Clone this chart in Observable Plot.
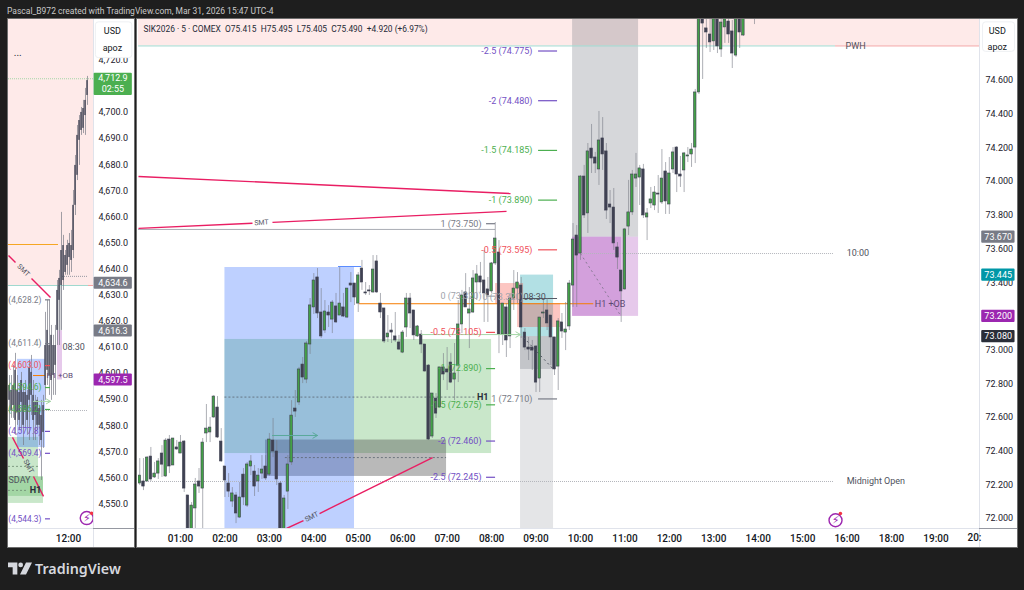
<!DOCTYPE html>
<html><head><meta charset="utf-8">
<style>
html,body{margin:0;padding:0;background:#1e1e1e;width:1024px;height:590px;overflow:hidden;font-family:Roboto,sans-serif}
.panel{position:absolute;top:19px;height:528px;overflow:hidden;background:#fff;outline:1px solid #6d6d6d}
#head{position:absolute;left:7px;top:4px;font-size:8.5px;line-height:14px;color:#c8c8c8;white-space:nowrap}
#logo{position:absolute;left:8px;top:562px}
#brand{position:absolute;left:35px;top:557px;font-size:14.3px;line-height:24px;font-weight:600;font-family:"Noto Sans",sans-serif;color:#d6d8de}
</style>
<script src="https://cdn.jsdelivr.net/npm/d3@7"></script>
<script src="https://cdn.jsdelivr.net/npm/@observablehq/plot@0.6"></script>
</head><body>
<div id="head">Pascal_B972 created with TradingView.com, Mar 31, 2026 15:47 UTC-4</div>
<div class="panel" id="left" style="left:8px;width:126px"></div>
<div class="panel" id="main" style="left:137px;width:880px"></div>
<svg id="logo" width="24" height="13" viewBox="0 0 36 18"><path fill="#d6d8de" d="M14 0H0v7h7v11h7zM27 18h-9L27 0h9z"/><circle fill="#d6d8de" cx="19" cy="3.6" r="3.6"/></svg>
<div id="brand">TradingView</div>
<script>
// ---------- SIK2026 5-minute bars, one array per hour: [open, high, low, close]
const firstBar = 1;
const h00 = [[72.208,72.356,72.196,72.255],[72.220,72.356,72.166,72.190],[72.220,72.368,72.220,72.362],[72.368,72.422,72.220,72.232],[72.244,72.333,72.238,72.267],[72.267,72.356,72.232,72.339],[72.386,72.433,72.244,72.320],[72.250,72.475,72.244,72.463],[72.469,72.493,72.267,72.309],[72.315,72.475,72.315,72.475],[72.422,72.463,72.404,72.410]];
const h01 = [[72.386,72.493,72.386,72.451],[72.457,72.463,72.155,72.178],[72.137,72.137,71.900,71.915],[71.925,72.095,71.880,72.077],[72.060,72.238,71.930,72.202],[72.220,72.297,72.149,72.190],[72.178,72.475,71.930,72.451],[72.505,72.677,72.451,72.534],[72.511,72.600,72.451,72.540],[72.600,72.730,72.594,72.724],[72.659,72.724,72.475,72.481],[72.457,72.534,72.333,72.339]];
const h02 = [[72.309,72.309,72.125,72.226],[72.208,72.267,72.125,72.160],[72.101,72.184,72.066,72.149],[72.137,72.155,71.970,72.030],[72.006,72.214,72.000,72.125],[72.261,72.297,72.077,72.125],[72.077,72.333,72.066,72.321],[72.309,72.374,72.255,72.339],[72.279,72.315,72.131,72.190],[72.220,72.297,72.155,72.255],[72.267,72.374,72.232,72.291],[72.309,72.374,72.226,72.238]];
const h03 = [[72.261,72.505,72.250,72.469],[72.463,72.594,72.362,72.398],[72.398,72.463,72.196,72.232],[72.208,72.220,71.900,71.915],[71.925,72.137,71.900,72.119],[72.160,72.374,72.054,72.321],[72.333,72.700,72.315,72.611],[72.653,72.760,72.600,72.635],[72.689,72.897,72.671,72.885],[72.914,72.956,72.801,72.837],[72.825,73.051,72.801,73.039],[73.033,73.306,72.974,73.265]];
const h04 = [[73.253,73.454,73.211,73.413],[73.431,73.484,73.187,73.217],[73.223,73.365,73.069,73.081],[73.116,73.294,73.098,73.229],[73.223,73.264,73.134,73.205],[73.181,73.294,73.098,73.282],[73.259,73.336,73.158,73.164],[73.205,73.490,73.205,73.276],[73.253,73.336,73.193,73.199],[73.193,73.365,73.187,73.365],[73.395,73.460,73.282,73.383],[73.395,73.395,73.264,73.312]];
const h05 = [[73.276,73.460,73.223,73.443],[73.484,73.532,73.354,73.401],[73.342,73.401,73.324,73.336],[73.354,73.383,73.324,73.348],[73.342,73.561,73.336,73.478],[73.526,73.561,73.336,73.342],[73.276,73.336,73.187,73.223],[73.247,73.247,73.039,73.051],[73.075,73.205,73.045,73.098],[73.116,73.158,73.039,73.104],[73.081,73.223,73.045,73.057],[73.045,73.087,72.997,73.003]];
const h06 = [[72.985,73.116,72.979,73.104],[73.134,73.336,73.075,73.306],[73.306,73.336,73.128,73.217],[73.235,73.235,73.057,73.087],[73.081,73.146,73.075,73.140],[73.092,73.116,72.979,73.033],[73.033,73.033,72.867,72.873],[72.908,72.914,72.463,72.469],[72.487,72.742,72.475,72.742],[72.712,72.742,72.594,72.623],[72.659,72.897,72.659,72.897],[72.897,72.979,72.819,72.855]];
const h07 = [[72.885,73.015,72.760,72.867],[72.926,72.979,72.801,72.807],[72.825,73.039,72.700,72.861],[72.908,73.294,72.807,73.152],[73.152,73.354,73.098,73.324],[73.342,73.454,73.253,73.253],[73.217,73.371,73.009,73.241],[73.223,73.472,73.217,73.425],[73.401,73.502,73.294,73.449],[73.437,73.520,73.336,73.401],[73.413,73.591,73.164,73.336],[73.360,73.431,73.164,73.324]];
const h08 = [[73.348,73.520,73.336,73.514],[73.514,73.757,73.502,73.662],[73.579,73.650,72.979,73.092],[73.092,73.276,73.027,73.276],[73.253,73.276,72.956,73.057],[73.081,73.336,73.009,73.306],[73.306,73.472,73.235,73.365],[73.365,73.460,73.276,73.401],[73.383,73.431,73.069,73.134],[73.104,73.128,72.997,73.015],[73.015,73.075,72.938,73.003],[73.015,73.057,72.879,72.997]];
const h09 = [[73.021,73.027,72.748,72.807],[72.831,73.193,72.748,73.193],[73.217,73.306,73.187,73.223],[73.235,73.306,73.116,73.158],[73.205,73.205,72.908,73.075],[73.075,73.075,72.849,72.885],[72.902,73.187,72.760,73.170],[73.164,73.217,73.069,73.110],[73.104,73.282,72.997,73.122],[73.140,73.413,73.116,73.395],[73.383,73.751,73.253,73.656],[73.680,73.739,73.253,73.561]];
const h10 = [[73.573,74.036,73.532,74.030],[74.030,74.096,73.781,73.799],[73.811,74.226,73.692,74.179],[74.196,74.339,74.048,74.137],[74.143,74.173,74.048,74.107],[74.072,74.416,73.977,74.244],[74.256,74.380,74.066,74.161],[74.179,74.226,73.775,73.828],[73.864,73.947,73.751,73.846],[73.846,73.959,73.591,73.633],[73.609,73.638,73.478,73.549],[73.472,73.472,73.164,73.348]];
const h11 = [[73.360,73.722,73.354,73.716],[73.733,74.007,73.680,73.817],[73.817,74.066,73.799,74.042],[74.018,74.167,73.965,74.042],[74.024,74.096,73.858,74.078],[74.072,74.102,73.781,73.799],[73.787,73.840,73.650,73.811],[73.870,73.965,73.840,73.894],[73.858,73.971,73.828,73.935],[73.929,74.036,73.811,73.923],[73.876,74.190,73.864,74.018],[74.060,74.113,73.805,73.882]];
const h12 = [[73.864,74.143,73.805,74.048],[74.072,74.202,74.048,74.173],[74.202,74.208,73.935,74.042],[74.042,74.149,73.965,74.030],[74.066,74.173,73.935,74.167],[74.149,74.202,74.113,74.155],[74.161,74.226,74.084,74.190],[74.202,74.547,74.107,74.529],[74.529,75.060,74.517,75.040],[75.050,75.060,74.606,74.938],[74.909,75.016,74.790,74.885],[74.873,75.016,74.766,74.826]];
const h13 = [[74.832,75.050,74.778,75.045],[75.045,75.050,74.760,74.802],[74.784,74.970,74.737,74.944],[74.915,75.050,74.820,75.040],[74.950,75.016,74.820,74.873],[74.891,74.956,74.671,74.760],[74.748,75.050,74.737,75.040],[75.040,75.050,74.790,74.885],[74.867,75.050,74.861,75.040],[75.100,75.200,75.050,75.150],[75.150,75.250,75.100,75.200],[75.100,75.200,74.932,75.150]];

// ---------- left panel bars (gold, compressed): [high, body top, body bottom, low]
const gcBarStart = 6.825, gcBarStep = 0.1754;
const gcBars = [[4599.2,4595.4,4589.7,4580.1],[4599.2,4593.5,4585.8,4582.8],[4603.1,4595.4,4587.7,4582.8],[4607.7,4601.2,4582,4576.3],[4599.2,4593.5,4585,4580.1],[4595.4,4592.7,4582,4578.2],[4600.4,4597.3,4588.9,4578.2],[4595.4,4592.7,4580.1,4572.4],[4597.3,4592.7,4585.8,4578.9],[4593.5,4591.6,4582,4576.3],[4605,4601.9,4589.7,4574.3],[4606.9,4600.4,4591.6,4583.9],[4597.3,4591.6,4582,4574.3],[4591.6,4588.9,4583.9,4574.3],[4590.8,4589.7,4580.1,4578.2],[4587.7,4586.6,4580.1,4572.4],[4589.7,4583.9,4574.3,4559],[4591.6,4587.7,4577.4,4571.3],[4623.4,4610.7,4595.4,4589.7],[4628,4616.5,4601.2,4595.4],[4628,4610.7,4599.2,4591.6],[4618.4,4614.6,4597.3,4589.7],[4614.6,4610.7,4599.2,4591.6],[4618.4,4610.7,4603.1,4591.6],[4635.6,4631.8,4616.5,4610.7],[4639.5,4636.4,4628,4610.7],[4661.7,4647.1,4633.7,4616.5],[4652.9,4649,4635.6,4631.8],[4647.1,4645.2,4638.7,4637.6],[4651,4649,4641.4,4637.6],[4653.6,4649.8,4644.4,4637.6],[4654.8,4649,4643.3,4638.7],[4670.1,4664.4,4647.1,4644],[4683.5,4679.7,4664.4,4660.5],[4695,4691.2,4675.9,4673.9],[4698.8,4696.9,4689.3,4679.7],[4701.9,4700,4693.1,4691.2],[4704.6,4701.5,4693.9,4691.9],[4709.2,4704.6,4698.8,4691.2],[4713.8,4712.2,4706.5,4702.7]];

// ---------- axes
const hourTicks = [1,2,3,4,5,6,7,8,9,10,11,12,13,14,15,16,17,18];
const hourLabels = ["01:00","02:00","03:00","04:00","05:00","06:00","07:00","08:00","09:00","10:00","11:00","12:00","13:00","14:00","15:00","16:00","18:00","19:00"];
const priceTicks = [72,72.2,72.4,72.6,72.8,73,73.2,73.4,73.6,73.8,74,74.2,74.4,74.6];
const gcTicks = [4550,4560,4570,4580,4590,4600,4610,4620,4630,4640,4650,4660,4670,4680,4690,4700,4710,4720];

// ---------- colours
const cUp="#43a047", cDown="#3f4152", cWick="#787b86", cDark="#2a2e39", cGray="#787b86", cRed="#f0505a", cGreen="#4caf50", cPurple="#7350c4", cPink="#e91e63", cOrange="#f57c00";
const fBlue="rgba(41,98,255,.3)", fGreen="rgba(76,175,80,.3)", fGray="rgba(120,123,134,.3)", fSoft="rgba(120,123,134,.2)", fMauve="rgba(156,39,176,.25)", fTeal="rgba(0,151,167,.3)", fRose="rgba(244,67,54,.3)", fBar="rgba(80,80,80,.4)", fBand="rgba(244,67,54,.11)";

// ---------- main chart annotations (time in session hours, y in price)
const X0=0.055, X1=18.98;
const zones = [
  [X0,X1,74.805,75.2,fBand],
  [8.652,9.395,71.8,73.08,fSoft],[8.652,9.395,72.885,73.08,fGray],[8.652,9.395,73.08,73.445,fTeal],
  [9.823,11.308,73.67,75.2,fGray],[9.823,11.308,73.2,73.67,fMauve],[9.823,10.926,73.2,73.67,fMauve],
  [2,8,72.386,73.063,fGreen],[2.913,6.987,72.25,72.466,fBar],[2,4.916,71.8,73.49,fBlue],
  [8.09,8.72,73.276,73.395,fRose],[8.585,9.553,73.134,73.276,fRose]
];
const pinkLines = [
  [[X0,74.030],[8.427,73.929]],[[X0,73.722],[2.62,73.753]],[[3.07,73.758],[8.337,73.823]],
  [[3.386,71.941],[3.768,71.988]],[[4.129,72.030],[6.672,72.362]]
];
const hRules = [
  [X0,15.74,74.805,"#9fd9cf",1,null],[15.74,X1,74.805,"#f3a3a3",1,null],
  [X0,8.09,73.716,"#a9acb4",1,null],
  [4.556,5.074,73.496,"#5b8cff",1,null],[5.03,10.3,73.275,cOrange,1,null],
  [X0,15.697,72.22,"#b4b6bc",1,"1,1"],[10,15.697,73.573,"#b4b6bc",1,"1,1"],
  [2,7.64,72.721,"#5c6470",0.8,"2,2"],[3.36,6.987,72.362,"#5c6470",0.8,"2,2"],
  [8.652,9.485,73.306,"#555a66",1,null]
];
const upperFibLabels = ["-2.5 (74.775)","-2 (74.480)","-1.5 (74.185)","-1 (73.890)","-0.5 (73.595)","1 (72.710)"];
const upperFibPrices = [74.775,74.48,74.185,73.89,73.595,72.71];
const upperFibColors = [cPurple,cPurple,cGreen,cGreen,cRed,cGray];
const lowerFibLabels = ["1 (73.750)","0 (73.320)","-0.5 (73.105)","-1 (72.890)","-1.5 (72.675)","-2 (72.460)","-2.5 (72.245)"];
const lowerFibPrices = [73.75,73.32,73.105,72.89,72.675,72.46,72.245];
const lowerFibColors = [cGray,"#a0a3ab",cRed,cGreen,cGreen,cPurple,cPurple];
const priceTags = [[73.67,"73.670","#787b86"],[73.445,"73.445","#0097a7"],[73.2,"73.200","#9c27b0"],[73.08,"73.080","#2a2e39"]];
const notes = [
  ["PWH",16.19,74.805,"#50535e","middle"],["10:00",15.99,73.573,"#50535e","start"],["Midnight Open",15.99,72.22,"#50535e","start"],
  ["08:30",8.968,73.312,"#50535e","middle"],["0 (73.320)",8.72,73.312,"#a0a3ab","end"],["H1 +OB",10.667,73.275,"#5d4a72","middle"]
];
const headline = "SIK2026 · 5 · COMEX\u2002O75.415\u2002H75.495\u2002L75.405\u2002C75.490\u2002+4.920 (+6.97%)";

const FONT = 'Roboto,sans-serif';
const rectMark = (rows,clip=true)=>Plot.rect(rows,{x1:d=>d[0],x2:d=>d[1],y1:d=>d[2],y2:d=>d[3],fill:d=>d[4],clip});
const segs = (rows)=>rows.map(([a,b],i)=>Plot.link([0],{x1:a[0],y1:a[1],x2:b[0],y2:b[1],stroke:cPink,strokeWidth:1.4,clip:true}));
const ruleMarks = rows=>rows.map(r=>Plot.ruleY([r[2]],{x1:r[0],x2:r[1],stroke:r[3],strokeWidth:r[4],strokeDasharray:r[5]||undefined,clip:true}));

// ---------- main chart
const bars = [h00,h01,h02,h03,h04,h05,h06,h07,h08,h09,h10,h11,h12,h13].flat().map((b,i)=>({t:(i+firstBar)/12,o:b[0],h:b[1],l:b[2],c:b[3]}));
const halfBody = 0.028;
const mainPlot = Plot.plot({
  width:880,height:528,marginLeft:1,marginRight:38,marginTop:0,marginBottom:19,
  style:{background:"#fff",fontFamily:FONT,overflow:"hidden"},
  x:{domain:[X0,X1]},y:{domain:[71.941,74.962]},color:{type:"identity"},
  marks:[
    rectMark(zones),
    ...ruleMarks(hRules),
    Plot.ruleX(bars,{x:"t",y1:"l",y2:"h",stroke:cWick,strokeOpacity:.6,strokeWidth:1,clip:true}),
    Plot.rect(bars,{x1:d=>d.t-halfBody,x2:d=>d.t+halfBody,y1:d=>Math.min(d.o,d.c),y2:d=>Math.max(d.o,d.c),fill:d=>d.c>=d.o?cUp:cDown,stroke:cDown,strokeWidth:.6,clip:true}),
    ...segs(pinkLines),
    Plot.link([0],{x1:10,y1:73.573,x2:10.904,y2:73.205,stroke:"#8a7a96",strokeDasharray:"2,3",strokeWidth:1}),
    Plot.link([0],{x1:8.72,y1:73.075,x2:9.395,y2:72.885,stroke:"#555a66",strokeDasharray:"2,3",strokeWidth:1}),
    Plot.arrow([0],{x1:3.07,y1:72.493,x2:4.084,y2:72.493,stroke:"#5aa99a",strokeWidth:1,headLength:8}),
    Plot.arrow([0],{x1:6.424,y1:73.092,x2:8.652,y2:73.092,stroke:"#a5d6a7",strokeWidth:1,headLength:8}),
    Plot.text(upperFibLabels,{x:8.92,y:(d,i)=>upperFibPrices[i],fill:(d,i)=>upperFibColors[i],text:d=>d,textAnchor:"end",fontSize:9}),
    Plot.ruleY(upperFibPrices,{x1:9.058,x2:9.485,y:d=>d,stroke:(d,i)=>upperFibColors[i],strokeWidth:1.2}),
    Plot.text(lowerFibLabels,{x:7.775,y:(d,i)=>lowerFibPrices[i],fill:(d,i)=>lowerFibColors[i],text:d=>d,textAnchor:"end",fontSize:9}),
    Plot.ruleY(lowerFibPrices,{x1:7.887,x2:8.09,y:d=>d,stroke:(d,i)=>lowerFibColors[i],strokeWidth:1.2}),
    Plot.text(notes.slice(0,3),{x:d=>d[1],y:d=>d[2],fill:d=>d[3],text:d=>d[0],textAnchor:"start",fontSize:9,filter:d=>d[4]==="start"}),
    Plot.text(notes,{x:d=>d[1],y:d=>d[2],fill:d=>d[3],text:d=>d[0],textAnchor:"middle",fontSize:9,filter:d=>d[4]==="middle"}),
    Plot.text(notes,{x:d=>d[1],y:d=>d[2],fill:d=>d[3],text:d=>d[0],textAnchor:"end",fontSize:9,filter:d=>d[4]==="end"}),
    Plot.text(["H1"],{x:7.8,y:72.721,text:d=>d,fill:"#2a2e39",fontWeight:700,fontSize:9}),
    Plot.text(["SMT"],{x:2.823,y:73.757,text:d=>d,fill:"#50535e",fontSize:7,rotate:-3}),
    Plot.text(["SMT"],{x:3.95,y:72.01,text:d=>d,fill:"#50535e",fontSize:7,rotate:-26}),
    Plot.dot([0],{x:15.74,y:71.99,r:6.5,stroke:"#9c27b0",strokeWidth:1.4,fill:"#fff"}),
    Plot.text(["\u26A1"],{x:15.74,y:71.99,text:d=>d,fill:"#9c27b0",fontSize:11,fontFamily:"DejaVu Sans"}),
    Plot.dot([0],{x:15.85,y:72.03,r:1.8,fill:"#f23645"}),
    // right price scale and time scale
    Plot.rect([0],{x1:X1,x2:20,y1:71.941,y2:75.2,fill:"#fff"}),
    Plot.ruleX([X1],{y1:71.82,y2:74.962,stroke:"#e0e3eb"}),
    Plot.ruleY([71.941],{x1:X0,x2:X1,stroke:"#e0e3eb"}),
    Plot.ruleY([71.941],{x1:X1,x2:20,stroke:"#9598a1"}),
    Plot.axisY({anchor:"right",ticks:priceTicks,tickFormat:d3.format(".3f"),tickSize:0,tickPadding:6,label:null,fontSize:9,fill:"#1c202b"}),
    Plot.axisX({anchor:"bottom",ticks:hourTicks,tickFormat:d=>hourLabels[hourTicks.indexOf(d)],tickSize:0,tickPadding:6,label:null,fontSize:10,fontWeight:500,fill:"#131722"}),
    Plot.text(["20:"],{x:18.71,y:71.941,dy:9.5,text:d=>d,textAnchor:"start",fontSize:10,fontWeight:500,fill:"#131722"}),
    Plot.rect(priceTags,{x1:19.03,x2:19.78,y1:d=>d[0]-.036,y2:d=>d[0]+.036,fill:d=>d[2],rx:1}),
    Plot.text(priceTags,{x:19.4,y:d=>d[0],text:d=>d[1],fill:"#fff",fontSize:9}),
    Plot.rect([0],{x1:19.06,x2:19.78,y1:74.6+.17,y2:74.6+.345,fill:"#fff",stroke:"#eef0f3",rx:3}),
    Plot.text(["USD"],{x:19.38,y:74.895,text:d=>d,fill:"#131722",fontSize:9}),
    Plot.text(["apoz"],{x:19.38,y:74.8,text:d=>d,fill:"#131722",fontSize:9}),
    Plot.text([headline],{frameAnchor:"top-left",dx:5,dy:7,text:d=>d,fill:"#262b38",fontSize:8.4,textAnchor:"start"})
  ]
});
document.getElementById("main").append(mainPlot);

// ---------- left panel annotations
const G0=6.737, G1=14.193;
const gcZones = [
  [G0,G1,4633.7,4745,fBand],
  [G0,9.368,4560.2,4575.5,fGreen],[G0,9.807,4550.2,4560.2,fGreen],[G0,9.807,4552.9,4560.5,fGreen],
  [7.526,9.982,4571.6,4605.4,fBlue],
  [11.035,11.474,4616.3,4633.7,fGray],[11.035,11.474,4597.5,4616.3,fMauve]
];
const gcPink = [[[G0,4645.2],[7.351,4642.5]],[[8.754,4636.4],[10.42,4629.1]],[[7.088,4575.5],[8.053,4567.4]],[[8.93,4560.5],[9.807,4552.9]]];
const gcRules = [
  [G0,11.123,4649.4,"#f5a623",1,null],[8.93,9.982,4599.2,cOrange,1,null],
  [G0,13.754,4633.7,"#9fd9cf",1,null],[13.754,G1,4633.7,"#f3a3a3",1,null],
  [G0,G1,4712.9,"#a5d6a7",1,"1,1"],[11.474,13.667,4637.2,"#9598a1",1,"1,1"],
  [G0,13.667,4585.8,"#b4b6bc",1,"1,1"],[G0,9.368,4564.4,"#6c8a70",.8,"2,2"],[G0,8.491,4555.2,"#6c8a70",.8,"2,2"]
];
const gcFibLabels = ["(4,628.2)","(4,611.4)","(4,603.0)","(4,594.6)","(4,586.2)","(4,577.8)","(4,569.4)","(4,544.3)"];
const gcFibPrices = [4628.2,4611.4,4603,4594.6,4586.2,4577.8,4569.4,4544.3];
const gcFibColors = [cGray,cGray,cRed,cGreen,cGreen,cPurple,cPurple,cPurple];
const gcTags = [[4634.6,"4,634.6","#787b86"],[4616.3,"4,616.3","#787b86"],[4597.5,"4,597.5","#9c27b0"]];
const gcNotes = [["08:30",11.474,4610,"#50535e"],["SDAY",G0,4559,"#50535e"]];
const gcMid = [["H1",10.509,4599.2],["+OB",11.737,4599.2]];

const gcRows = gcBars.map((b,i)=>({t:gcBarStart+i*gcBarStep,h:b[0],top:b[1],bot:b[2],l:b[3]}));
const gcHalf = 0.06;
const leftPlot = Plot.plot({
  width:126,height:528,marginLeft:0,marginRight:41,marginTop:0,marginBottom:19,
  style:{background:"#fff",fontFamily:FONT,overflow:"hidden"},
  x:{domain:[G0,G1]},y:{domain:[4540.6,4735.6]},color:{type:"identity"},
  marks:[
    rectMark(gcZones),
    ...ruleMarks(gcRules),
    Plot.ruleX(gcRows,{x:"t",y1:"l",y2:"h",stroke:cWick,strokeOpacity:.7,strokeWidth:1,clip:true}),
    Plot.rect(gcRows,{x1:d=>d.t-gcHalf,x2:d=>d.t+gcHalf,y1:"bot",y2:"top",fill:cDown,clip:true}),
    ...segs(gcPink),
    Plot.arrow([0],{x1:8.93,y1:4589.3,x2:10.42,y2:4589.3,stroke:"#a5d6a7",strokeWidth:1,headLength:7}),
    Plot.text(gcFibLabels,{x:9.632,y:(d,i)=>gcFibPrices[i],fill:(d,i)=>gcFibColors[i],text:d=>d,textAnchor:"end",fontSize:8.4,clip:true}),
    Plot.ruleY(gcFibPrices,{x1:9.982,x2:10.42,y:d=>d,stroke:(d,i)=>gcFibColors[i],strokeWidth:1.2}),
    Plot.text(gcNotes,{x:d=>d[1],y:d=>d[2],text:d=>d[0],fill:d=>d[3],textAnchor:"start",fontSize:9,clip:true}),
    Plot.text(gcMid,{x:d=>d[1],y:d=>d[2],text:d=>d[0],fill:"#5d4a72",fontSize:8}),
    Plot.text(["H1"],{x:9.105,y:4555.2,text:d=>d,fill:"#2a2e39",fontWeight:700,fontSize:9}),
    Plot.text(["SMT"],{x:8.053,y:4639.5,text:d=>d,fill:"#50535e",fontSize:7,rotate:45}),
    Plot.text(["SMT"],{x:8.491,y:4564.4,text:d=>d,fill:"#50535e",fontSize:7,rotate:62}),
    Plot.text(["..."],{x:7.55,y:4723,text:d=>d,fill:"#2a2e39",fontSize:10}),
    Plot.dot([0],{x:13.6,y:4544.6,r:6.5,stroke:"#9c27b0",strokeWidth:1.4,fill:"#fff"}),
    Plot.text(["\u26A1"],{x:13.6,y:4544.6,text:d=>d,fill:"#9c27b0",fontSize:11,fontFamily:"DejaVu Sans"}),
    Plot.dot([0],{x:14.03,y:4546.4,r:1.8,fill:"#f23645"}),
    Plot.rect([0],{x1:G1,x2:18,y1:4540.6,y2:4745,fill:"#fff"}),
    Plot.ruleX([G1],{y1:4533,y2:4735.6,stroke:"#e0e3eb"}),
    Plot.ruleY([4540.6],{x1:G0,x2:G1,stroke:"#e0e3eb"}),
    Plot.ruleY([4540.6],{x1:G1,x2:18,stroke:"#9598a1"}),
    Plot.axisY({anchor:"right",ticks:gcTicks,tickFormat:d3.format(",.1f"),tickSize:0,tickPadding:5,label:null,fontSize:9,fill:"#1c202b"}),
    Plot.axisX({anchor:"bottom",ticks:[12],tickFormat:()=>"12:00",tickSize:0,tickPadding:6,label:null,fontSize:10,fontWeight:500,fill:"#131722"}),
    Plot.rect(gcTags,{x1:14.25,x2:17.6,y1:d=>d[0]-2.3,y2:d=>d[0]+2.3,fill:d=>d[2],rx:1}),
    Plot.text(gcTags,{x:15.9,y:d=>d[0],text:d=>d[1],fill:"#fff",fontSize:9}),
    Plot.rect([0],{x1:14.25,x2:17.6,y1:4706.5,y2:4715,fill:"#4caf50",rx:1}),
    Plot.text(["4,712.9"],{x:15.9,y:4713,text:d=>d,fill:"#fff",fontSize:9}),
    Plot.text(["02:55"],{x:15.9,y:4709,text:d=>d,fill:"#fff",fontSize:9}),
    Plot.rect([0],{x1:14.4,x2:17.6,y1:4720.8,y2:4734.5,fill:"#fff",stroke:"#eef0f3",rx:3}),
    Plot.text(["USD"],{x:15.85,y:4731,text:d=>d,fill:"#131722",fontSize:9}),
    Plot.text(["apoz"],{x:15.85,y:4724.5,text:d=>d,fill:"#131722",fontSize:9})
  ]
});
document.getElementById("left").append(leftPlot);
</script>
</body></html>
